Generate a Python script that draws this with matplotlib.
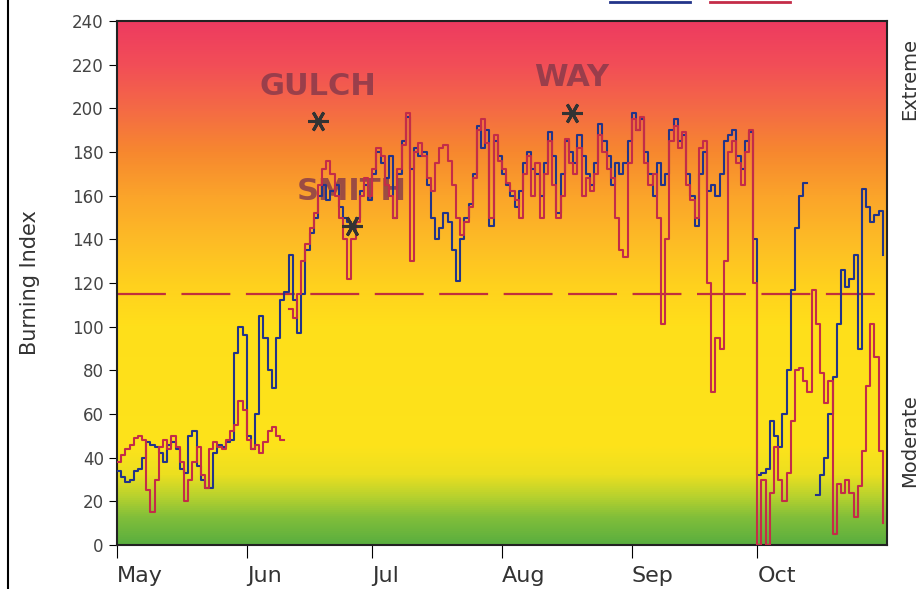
import numpy as np
import matplotlib
matplotlib.use("Agg")
import matplotlib.pyplot as plt
from matplotlib.colors import LinearSegmentedColormap
from matplotlib.lines import Line2D

# Daily Burning Index, May 1 - Oct 31 (day 0 = May 1)
months = ["May", "Jun", "Jul", "Aug", "Sep", "Oct"]
month_start = [0, 31, 61, 92, 123, 153]
n_days = 184
nan = np.nan

blue_may = [34, 31, 29, 30, 34, 35, 40, 47, 46, 45, 42, 38, 46, 47, 44, 35, 33, 50, 52, 36,
            30, 26, 26, 42, 46, 45, 47, 48, 88, 100, 96]
blue_jun = [50, 44, 60, 105, 95, 80, 72, 95, 112, 116, 133, 112, 97, 115, 135, 143, 150, 160,
            165, 158, 162, 165, 155, 150, 148, 145, 150, 162, 165, 158]
blue_jul = [170, 180, 175, 168, 178, 150, 170, 185, 196, 172, 182, 178, 180, 165, 150, 140, 145,
            152, 148, 135, 121, 140, 150, 156, 170, 192, 182, 190, 146, 185, 178]
blue_aug = [170, 165, 160, 155, 162, 175, 180, 172, 170, 160, 175, 189, 178, 152, 170, 185, 180,
            175, 188, 178, 170, 165, 175, 193, 185, 178, 165, 175, 170, 175, 185]
blue_sep = [198, 190, 195, 180, 170, 160, 175, 165, 170, 190, 195, 185, 188, 170, 160, 146, 170,
            180, 162, 165, 160, 170, 185, 188, 190, 178, 172, 185, 189, 140]
blue_oct = [32, 33, 35, 57, 50, 45, 60, 80, 117, 145, 160, 166, nan, nan, 23, 32, 40, 60, 77,
            101, 126, 118, 122, 133, 90, 163, 155, 148, 151, 153, 133]

red_may = [38, 41, 44, 46, 49, 50, 48, 25, 15, 30, 45, 48, 44, 50, 45, 38, 20, 30, 38, 45,
           32, 26, 44, 47, 45, 44, 48, 52, 55, 66, 62]
red_jun = [48, 44, 46, 42, 47, 52, 54, 50, 48, nan, 108, 104, 115, 130, 138, 145, 152, 165,
           172, 176, 170, 160, 150, 140, 122, 140, 148, 160, 168, 160]
red_jul = [172, 182, 178, 165, 160, 150, 172, 183, 198, 130, 180, 184, 178, 168, 162, 175, 182,
           183, 176, 165, 150, 142, 148, 155, 168, 190, 195, 184, 150, 188, 176]
red_aug = [172, 166, 162, 158, 150, 170, 178, 160, 175, 150, 170, 185, 165, 150, 160, 186, 175,
           170, 182, 160, 168, 162, 170, 188, 180, 172, 168, 150, 135, 132, 175]
red_sep = [195, 190, 196, 175, 165, 170, 150, 101, 140, 185, 192, 182, 189, 165, 158, 150, 182,
           185, 120, 70, 95, 90, 130, 180, 185, 175, 165, 180, 190, 120]
red_oct = [0, 30, 0, 24, 45, 30, 20, 33, 57, 80, 81, 75, 70, 117, 101, 79, 65, 75, 5, 28,
           24, 30, 24, 13, 27, 43, 73, 101, 86, 43, 10]

blue = np.array(blue_may + blue_jun + blue_jul + blue_aug + blue_sep + blue_oct, dtype=float)
red = np.array(red_may + red_jun + red_jul + red_aug + red_sep + red_oct, dtype=float)
days = np.arange(len(blue))

threshold = 115

# fire starts
fires = ["GULCH", "SMITH", "WAY"]
fire_day = [48.0, 56.2, 108.7]
fire_bi = [194, 146, 198]

# background colour bands (index value -> colour)
bg_levels = [0, 12, 22, 32, 45, 100, 120, 140, 160, 180, 200, 220, 240]
bg_colors = ["#5aae3f", "#80be3a", "#b8d22e", "#ecdf20", "#fde31b", "#ffdf1a", "#ffd01e",
             "#fdbb26", "#fba42a", "#f7882f", "#f46a45", "#f24e57", "#ee3b60"]

BLUE = "#22348a"
RED = "#c42c48"

fig = plt.figure(figsize=(9.21, 5.89), dpi=100)
ax = fig.add_axes([117 / 921, 1 - 545 / 589, 770 / 921, 524 / 589])

cmap = LinearSegmentedColormap.from_list(
    "bi", [(v / 240.0, c) for v, c in zip(bg_levels, bg_colors)])
grad = np.linspace(0, 240, 512).reshape(-1, 1)
ax.imshow(grad, extent=[0, n_days, 0, 240], origin="lower", aspect="auto",
          cmap=cmap, vmin=0, vmax=240, zorder=0)

# fire names sit under the traces
for name, d, v in zip(fires, fire_day, fire_bi):
    ax.annotate(name, (d, v), xytext=(0, 25), textcoords="offset points",
                ha="center", va="center", fontsize=22, fontweight="bold",
                color="#84384a", alpha=0.8, zorder=1.5)

ax.axhline(threshold, color="#c0303c", lw=1.6, dashes=(22, 7), zorder=2)
ax.step(days, blue, where="post", color=BLUE, lw=1.5, zorder=3)
ax.step(days, red, where="post", color=RED, lw=1.5, zorder=4)

ax.plot(fire_day, fire_bi, ls="none", marker=(6, 2, 90), ms=15, mew=2.2,
        color="#333333", zorder=5)

ax.set_xlim(0, n_days)
ax.set_ylim(0, 240)
ax.set_yticks(np.arange(0, 241, 20))
ax.set_xticks(month_start)
ax.set_xticklabels(months, ha="left")
ax.tick_params(axis="y", direction="out", length=6, labelsize=12, labelcolor="#444444")
ax.tick_params(axis="x", direction="out", length=9, labelsize=16, labelcolor="#333333", pad=6)
for sp in ax.spines.values():
    sp.set_linewidth(1.5)
    sp.set_color("#222222")

ax.set_ylabel("Burning Index", fontsize=15, color="#333333")
ax.yaxis.set_label_coords(-0.100, 0.5)
ax.text(1.029, 0.89, "Extreme", rotation=90, transform=ax.transAxes,
        ha="center", va="center", fontsize=14, color="#333333")
ax.text(1.029, 0.20, "Moderate", rotation=90, transform=ax.transAxes,
        ha="center", va="center", fontsize=14, color="#333333")

# legend keys peeking in at the top edge
handles = [Line2D([], [], color=BLUE, lw=2), Line2D([], [], color=RED, lw=2)]
fig.legend(handles, ["", ""], ncol=2, loc="center", bbox_to_anchor=(700 / 921, 1 - 3 / 589),
           frameon=False, handlelength=5.8, handletextpad=0, columnspacing=1.4, fontsize=10)

# page border on the left
fig.add_artist(Line2D([8 / 921, 8 / 921], [0, 1], color="black", lw=1.5,
                      transform=fig.transFigure))

fig.savefig("out.png", dpi=100)
plt.close(fig)
